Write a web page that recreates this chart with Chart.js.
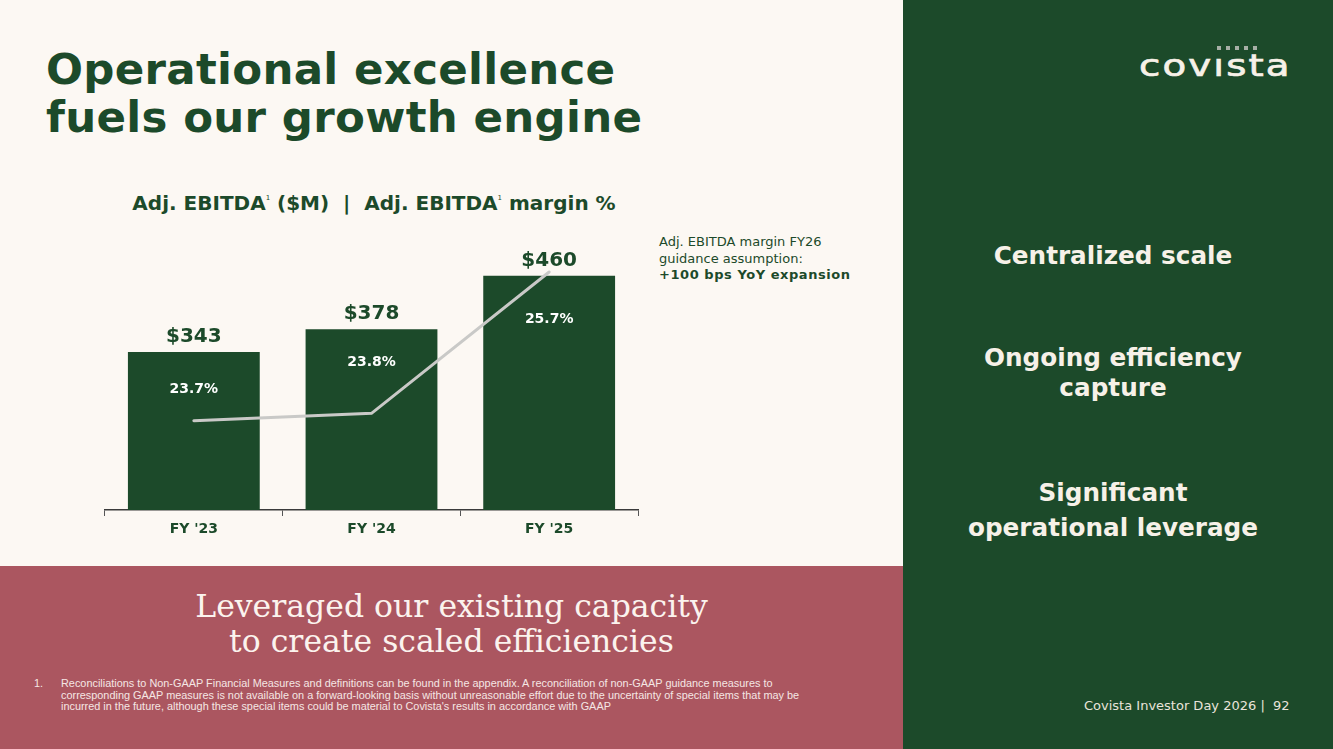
<!DOCTYPE html>
<html>
<head>
<meta charset="utf-8">
<script src="https://cdn.jsdelivr.net/npm/chart.js@4.4.1/dist/chart.umd.min.js"></script>
<style>
  html, body { margin: 0; padding: 0; }
  body { width: 1333px; height: 749px; position: relative; overflow: hidden; background: #fcf8f3; font-family: "DejaVu Sans", Verdana, sans-serif; }
  .abs { position: absolute; }
  #title { left: 46px; top: 45px; color: #1c4a2a; font-weight: bold; font-size: 43.5px; line-height: 48px; letter-spacing: 0.3px; }
  #chartHead { left: 74px; width: 600px; top: 191px; text-align: center; color: #1c4a2a; font-weight: bold; font-size: 20px; white-space: pre; }
  #chartHead sup { font-size: 7px; vertical-align: 10px; font-weight: normal; }
  #note { left: 659px; top: 234px; color: #1c4a2a; font-size: 13px; line-height: 16.5px; }
  #note b { letter-spacing: 0.55px; }
  #chartBox { left: 60px; top: 150px; width: 640px; height: 400px; }
  #band { left: 0; top: 566px; width: 903px; height: 183px; background: #ab5660; }
  #bandText { left: 0; width: 903px; top: 589px; text-align: center; color: #fbf3ee; font-family: "DejaVu Serif", Georgia, serif; font-size: 31.5px; line-height: 35px; }
  #foot { left: 33px; top: 678px; width: 820px; color: #f5e6e4; font-family: "Liberation Sans Narrow", "Liberation Sans", sans-serif; font-size: 10.9px; line-height: 11.5px; }
  #foot .n { position: absolute; left: 1px; }
  #foot .t { margin-left: 28px; }
  #side { left: 903px; top: 0; width: 430px; height: 749px; background: #1c4a2a; }
  .pt { left: 903px; width: 420px; text-align: center; color: #f7f1e8; font-weight: bold; font-size: 24.7px; line-height: 30px; }
  #logo { left: 1139px; top: 50px; color: #f7f1e8; font-family: "DejaVu Sans", sans-serif; font-size: 31px; line-height: 31px; letter-spacing: 1.7px;
          -webkit-text-stroke: 0.7px #f7f1e8; transform: scaleX(1.25); transform-origin: left top; white-space: pre; }
  #dots { left: 1217px; top: 46px; line-height: 4px; font-size: 0; }
  #dots span { display: inline-block; width: 4px; height: 4px; background: #a7afa6; margin-right: 5px; }
  #pg { left: 1084px; top: 698px; color: #e9e4da; font-size: 13px; white-space: pre; }
</style>
</head>
<body>
<div id="title" class="abs">Operational excellence<br>fuels our growth engine</div>
<div id="chartHead" class="abs">Adj. EBITDA<sup>1</sup> ($M)  |  Adj. EBITDA<sup>1</sup> margin %</div>
<div id="note" class="abs">Adj. EBITDA margin FY26<br>guidance assumption:<br><b>+100 bps YoY expansion</b></div>
<div id="chartBox" class="abs"><canvas id="myChart" width="640" height="400"></canvas></div>

<div id="band" class="abs"></div>
<div id="bandText" class="abs">Leveraged our existing capacity<br>to create scaled efficiencies</div>
<div id="foot" class="abs"><span class="n">1.</span><div class="t">Reconciliations to Non-GAAP Financial Measures and definitions can be found in the appendix. A reconciliation of non-GAAP guidance measures to<br>corresponding GAAP measures is not available on a forward-looking basis without unreasonable effort due to the uncertainty of special items that may be<br>incurred in the future, although these special items could be material to Covista's results in accordance with GAAP</div></div>

<div id="side" class="abs"></div>
<div id="logo" class="abs">covısta</div>
<div id="dots" class="abs"><span></span><span></span><span></span><span></span><span></span></div>
<div class="abs pt" style="top:241px">Centralized scale</div>
<div class="abs pt" style="top:343px">Ongoing efficiency<br>capture</div>
<div class="abs pt" style="top:475px;line-height:35px">Significant<br>operational leverage</div>
<div id="pg" class="abs">Covista Investor Day 2026 |  92</div>

<script>
// chart data
const years = ["FY '23", "FY '24", "FY '25"];
const ebitda = [343, 378, 460];      // $M
const margin = [23.7, 23.8, 25.7];   // %

const green = '#1c4a2a';
// how far below the bar top each margin label sits (px)
const pctDrop = [37, 33, 44];

// draws $ value above each bar and margin % inside it
const barLabels = {
    id: 'barLabels',
    afterDatasetsDraw(chart) {
        const ctx = chart.ctx;
        const meta = chart.getDatasetMeta(1);
        ctx.save();
        ctx.textAlign = 'center';
        meta.data.forEach((bar, i) => {
            ctx.fillStyle = green;
            ctx.font = 'bold 20px "DejaVu Sans"';
            ctx.textBaseline = 'alphabetic';
            ctx.fillText('$' + ebitda[i], bar.x, bar.y - 10);
            ctx.fillStyle = '#ffffff';
            ctx.font = 'bold 14px "DejaVu Sans"';
            ctx.textBaseline = 'middle';
            ctx.fillText(margin[i].toFixed(1) + '%', bar.x, bar.y + pctDrop[i]);
        });
        ctx.restore();
    }
};

const ctx = document.getElementById('myChart').getContext('2d');
new Chart(ctx, {
    data: {
        labels: years,
        datasets: [
            {
                type: 'line',
                data: margin,
                yAxisID: 'y2',
                borderColor: '#c9c9c7',
                borderWidth: 3,
                borderCapStyle: 'round',
                pointRadius: 0,
                tension: 0,
                order: 0
            },
            {
                type: 'bar',
                data: ebitda,
                yAxisID: 'y',
                backgroundColor: green,
                categoryPercentage: 1,
                barPercentage: 0.742,
                order: 1
            }
        ]
    },
    options: {
        responsive: false,
        animation: false,
        maintainAspectRatio: false,
        layout: { padding: { left: 45, right: 62, top: 90, bottom: 0 } },
        plugins: { legend: { display: false }, tooltip: { enabled: false } },
        scales: {
            x: {
                afterFit: s => { s.height = 40; },
                grid: { display: true, drawOnChartArea: false, drawTicks: true, tickLength: 6, color: '#555555', offset: true },
                border: { display: true, color: '#3a3a3a', width: 1.5 },
                ticks: { color: green, font: { family: 'DejaVu Sans', size: 14, weight: 'bold' }, padding: 5 }
            },
            y: { display: false, min: 100, max: 515 },
            y2: { display: false, min: 22.5, max: 26.13 }
        }
    },
    plugins: [barLabels]
});
</script>
</body>
</html>
